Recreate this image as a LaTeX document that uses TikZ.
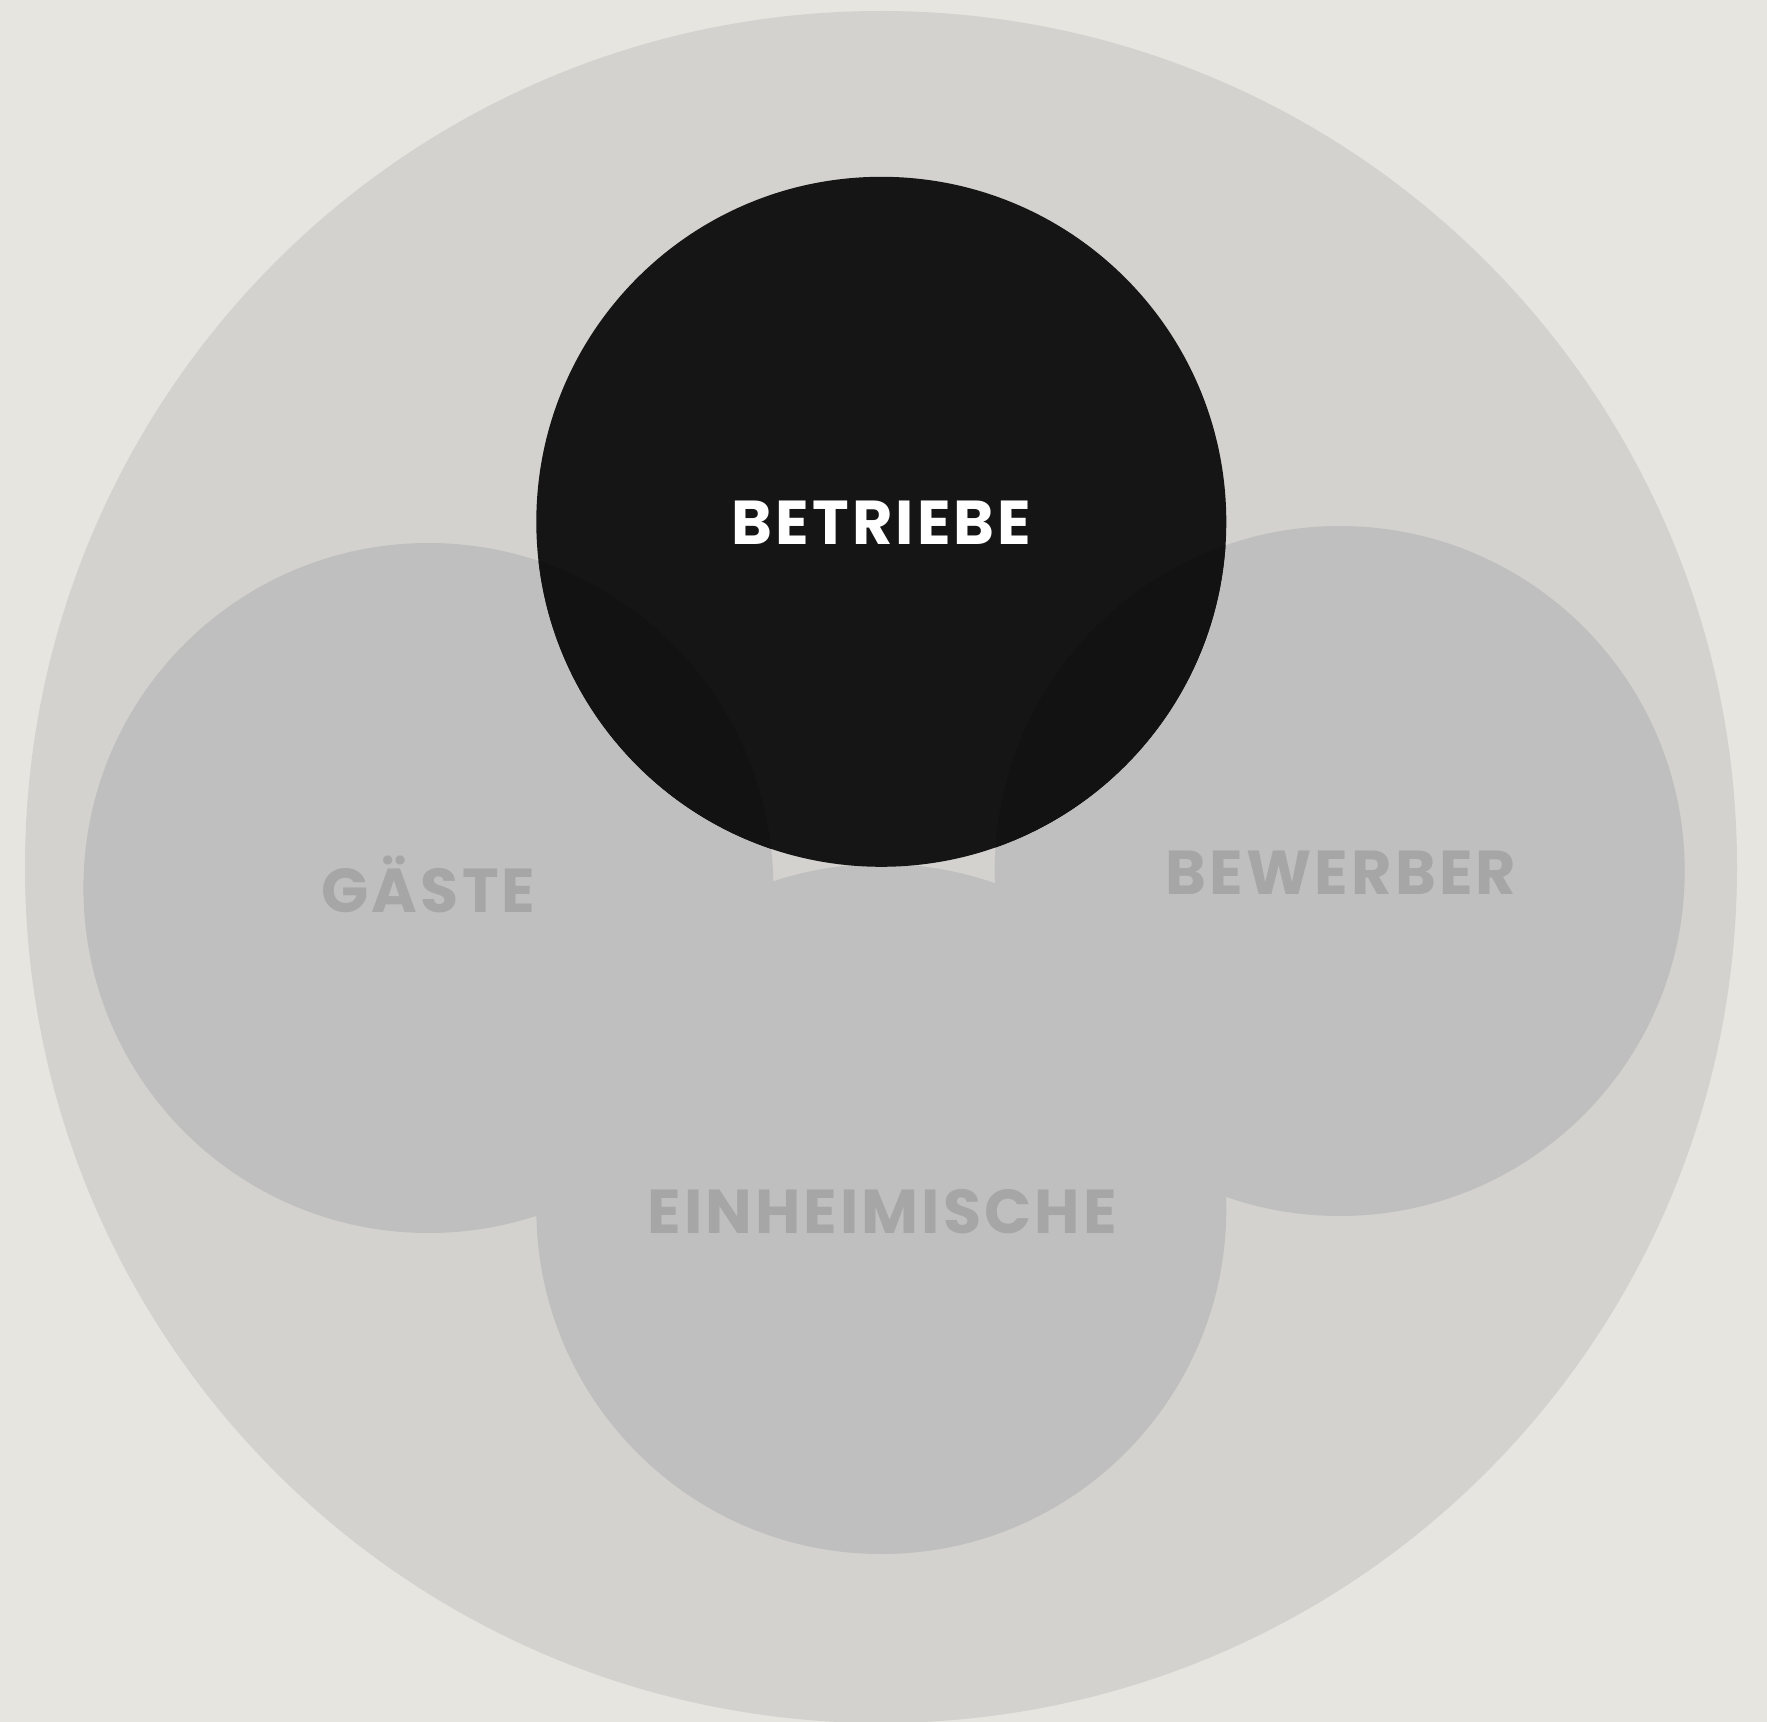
\documentclass[tikz,border=0pt]{standalone}
\usepackage{fontspec}
\setmainfont{Poppins}[LetterSpace=5]
\definecolor{bg}{HTML}{E7E5DF}
\definecolor{outer}{HTML}{D3D2CE}
\definecolor{part}{HTML}{BFBFBF}
\definecolor{parttext}{HTML}{A6A6A6}
\definecolor{core}{HTML}{151515}
\definecolor{coreov}{HTML}{121212}
\begin{document}
\begin{tikzpicture}[x=0.5pt,y=-0.5pt,
  lab/.style={font=\fontsize{31}{31}\selectfont\bfseries, inner sep=0pt, anchor=base},
  grouplab/.style={lab, text=parttext},
  corelab/.style={lab, text=white}]
\fill[bg] (0,0) rectangle (1767,1722);
\useasboundingbox (0,0) rectangle (1767,1722);
\fill[outer] (881,867) circle [radius=856];
\fill[part] (428.4,888) circle [radius=345];
\fill[part] (1339.7,871) circle [radius=345];
\fill[part] (881.3,1209) circle [radius=345];
\fill[core] (881.3,521.8) circle [radius=345];
\begin{scope}
  \clip (881.3,521.8) circle [radius=345];
  \fill[coreov] (428.4,888) circle [radius=345];
  \fill[coreov] (1339.7,871) circle [radius=345];
\end{scope}
\node[corelab] (betriebe) at (881.5,545) {BETRIEBE};
\node[grouplab] (gaeste) at (428.5,912) {GÄSTE};
\node[grouplab] (bewerber) at (1341,894) {BEWERBER};
\node[grouplab] (einheimische) at (882,1233) {EINHEIMISCHE};
\end{tikzpicture}
\end{document}
